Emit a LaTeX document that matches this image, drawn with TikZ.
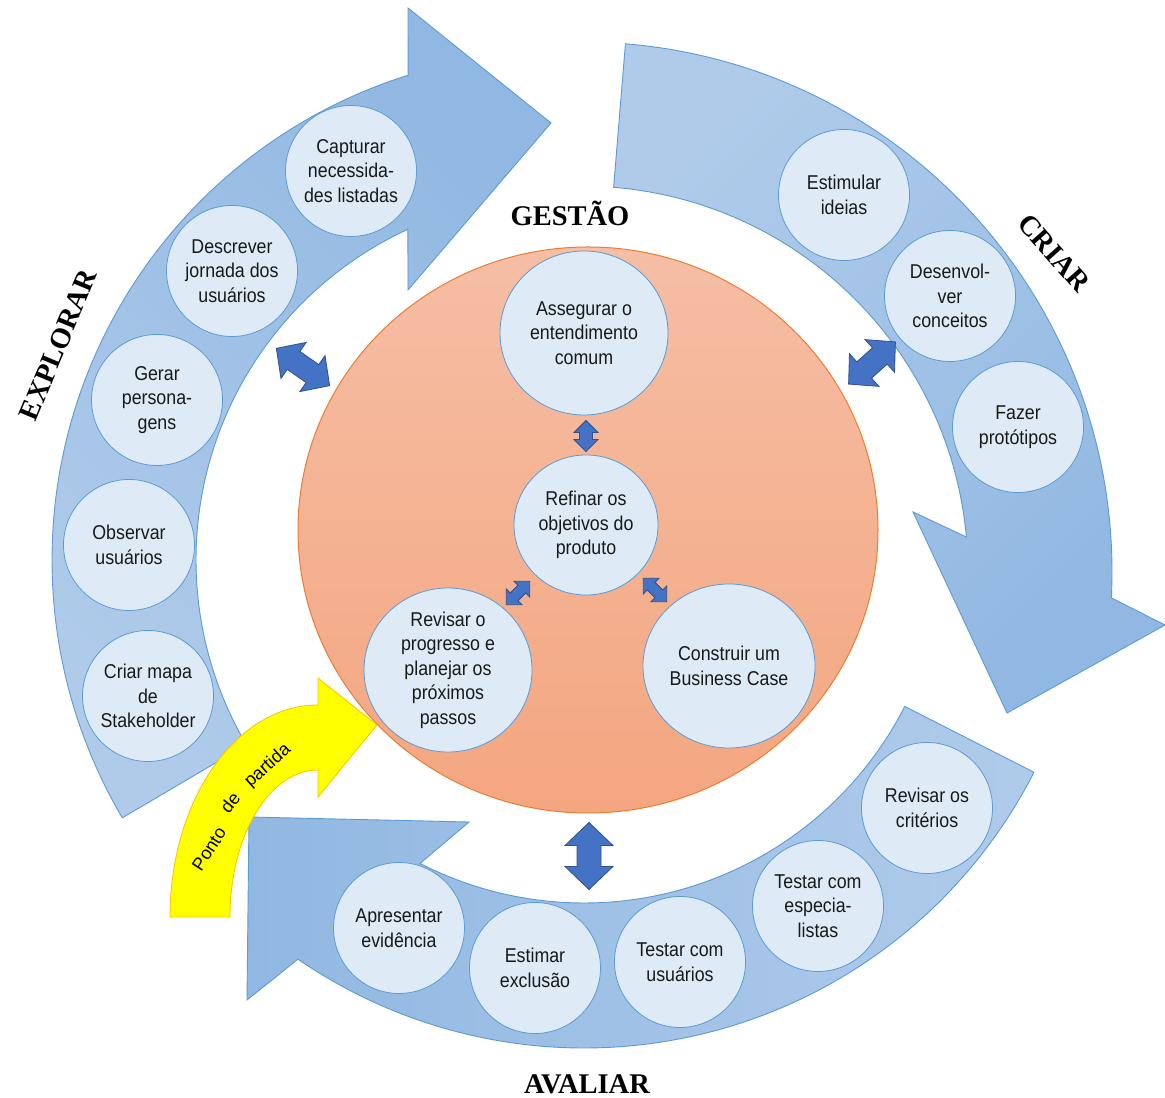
\documentclass[tikz,border=0pt]{standalone}
\usepackage{fontspec}
\newfontfamily\bodyfont{Liberation Sans}[FakeStretch=0.89]
\newfontfamily\plainsans{Liberation Sans}
\newfontfamily\headfont{Liberation Serif}
\usetikzlibrary{shapes.geometric,calc}

\definecolor{ringlight}{RGB}{176,203,234}
\definecolor{ringdark}{RGB}{145,184,226}
\definecolor{ringline}{RGB}{91,155,213}
\definecolor{bubblefill}{RGB}{222,235,247}
\definecolor{coretop}{RGB}{245,190,165}
\definecolor{corebottom}{RGB}{244,166,128}
\definecolor{coreline}{RGB}{237,125,49}
\definecolor{dblfill}{RGB}{68,114,196}
\definecolor{dblline}{RGB}{47,82,143}
\definecolor{startfill}{RGB}{255,255,0}
\definecolor{startline}{RGB}{255,192,0}
\definecolor{ink}{RGB}{25,25,25}

\tikzset{
  bubble/.style={circle, draw=ringline, fill=bubblefill, line width=0.8pt,
    minimum size=131pt, inner sep=-25pt, align=center, text=ink,
    font=\bodyfont\fontsize{20}{24.5}\selectfont},
  corebubble/.style={ellipse, draw=ringline, fill=bubblefill, line width=0.8pt,
    inner sep=-30pt, align=center, text=ink,
    font=\bodyfont\fontsize{20}{24.5}\selectfont},
  phase/.style={font=\headfont\bfseries\fontsize{28.5}{30}\selectfont, text=black},
  startlabel/.style={font=\plainsans\fontsize{18}{20}\selectfont, text=black, inner sep=0pt},
  ring/.style={draw=ringline, line width=0.9pt},
  pics/dblarrow/.style n args={4}{code={
    % #1 length, #2 head half-width, #3 shaft half-width, #4 head length
    \filldraw[fill=dblfill, draw=dblline, line width=0.8pt]
      ({-#1/2},0) -- ({-#1/2+#4},#2) -- ({-#1/2+#4},#3) -- ({#1/2-#4},#3)
      -- ({#1/2-#4},#2) -- ({#1/2},0) -- ({#1/2-#4},-#2) -- ({#1/2-#4},-#3)
      -- ({-#1/2+#4},-#3) -- ({-#1/2+#4},-#2) -- cycle;
  }}
}

\begin{document}
\begin{tikzpicture}[x=1pt,y=1pt]
\useasboundingbox (0,0) rectangle (1165,1098);
\fill[white] (0,0) rectangle (1165,1098);

% ---- EXPLORAR ring arrow
\shadedraw[ring, top color=ringdark, bottom color=ringlight, shading angle=-45]
  ([shift={(560,538)}]210.5:508pt) arc[start angle=210.5, end angle=107.4, radius=508pt]
  -- (408,1090) -- (551,975) -- (408,808)
  -- ([shift={(560,538)}]114.7:364pt) arc[start angle=114.7, end angle=210.5, radius=364pt]
  -- cycle;

% ---- CRIAR ring arrow
\shadedraw[ring, top color=ringlight, bottom color=ringdark, shading angle=45]
  ([shift={(582,526)}]85.3:530pt) arc[start angle=85.3, end angle=-2.8, radius=530pt]
  -- (1165,473) -- (1007,385) -- (913,586)
  -- ([shift={(582,526)}]5.2:386pt) arc[start angle=5.2, end angle=85.3, radius=386pt]
  -- cycle;

% ---- AVALIAR ring arrow
\shadedraw[ring, top color=ringlight, bottom color=ringdark, shading angle=-90]
  ([shift={(584,555)}]333:505pt) arc[start angle=333, end angle=235.5, radius=505pt]
  -- (247,98) -- (249,281) -- (469,276)
  -- ([shift={(584,555)}]242.9:360pt) arc[start angle=242.9, end angle=333, radius=360pt]
  -- cycle;

% ---- central management disc
\node[ellipse, minimum width=580pt, minimum height=566pt, inner sep=0pt,
      top color=coretop, bottom color=corebottom, draw=coreline, line width=1pt]
      (core) at (588,568) {};

% ---- phase titles
\node[phase] (gestao) at (570,885) {GESTÃO};
\node[phase] (avaliar) at (587,14) {AVALIAR};
\node[phase, rotate=67.4] (explorar) at (58,753) {EXPLORAR};
\node[phase, rotate=-48.4] (criar) at (1054,845) {CRIAR};

% ---- EXPLORAR steps
\node[bubble] (capturar) at (351,927) {Capturar\\necessida-\\des listadas};
\node[bubble] (descrever) at (232,827) {Descrever\\jornada dos\\usuários};
\node[bubble] (gerar) at (157,698) {Gerar\\persona-\\gens};
\node[bubble] (observar) at (129,553) {Observar\\usuários};
\node[bubble] (mapa) at (148,402) {Criar mapa\\de\\Stakeholder};

% ---- CRIAR steps
\node[bubble] (estimular) at (844,903) {Estimular\\ideias};
\node[bubble] (desenvolver) at (950,802) {Desenvol-\\ver\\conceitos};
\node[bubble] (prototipos) at (1018,671) {Fazer\\protótipos};

% ---- AVALIAR steps
\node[bubble] (evidencia) at (399,170) {Apresentar\\evidência};
\node[bubble] (exclusao) at (535,130) {Estimar\\exclusão};
\node[bubble] (usuarios) at (680,136) {Testar com\\usuários};
\node[bubble] (especialistas) at (818,192) {Testar com\\especia-\\listas};
\node[bubble] (criterios) at (927,290) {Revisar os\\critérios};

% ---- management steps
\node[corebubble, minimum width=168pt, minimum height=164pt] (assegurar) at (584,765)
  {Assegurar o\\entendimento\\comum};
\node[corebubble, minimum width=144pt, minimum height=140pt] (refinar) at (586,573)
  {Refinar os\\objetivos do\\produto};
\node[corebubble, minimum width=168pt, minimum height=164pt] (revisar) at (448,428)
  {Revisar o\\progresso e\\planejar os\\próximos\\passos};
\node[corebubble, minimum width=172pt, minimum height=164pt] (construir) at (729,432)
  {Construir um\\Business Case};

% ---- two-way links
\pic[rotate=90] (linkA) at (586,662) {dblarrow={31}{12}{6.5}{12}};
\pic[rotate=45] (linkB) at (518,505) {dblarrow={33}{11}{5.5}{11}};
\pic[rotate=-45] (linkC) at (655,508) {dblarrow={33}{11}{5.5}{11}};
\pic[rotate=-35] (linkExp) at (303,731) {dblarrow={65}{22}{11}{21}};
\pic[rotate=42] (linkCri) at (872,735) {dblarrow={63}{22}{11}{21}};
\pic[rotate=90] (linkAva) at (589,242) {dblarrow={67}{24}{12}{23}};

% ---- starting point arrow
\filldraw[fill=startfill, draw=startline, line width=0.8pt]
  (170,181) arc[start angle=180, end angle=90, x radius=148pt, y radius=212pt]
  -- (318,420) -- (377,373) -- (318,301)
  -- (318,328) arc[start angle=90, end angle=180, x radius=88pt, y radius=147pt]
  -- cycle;
\node[startlabel, rotate=57] (ponto) at (209,249) {Ponto};
\node[startlabel, rotate=52] (de) at (230,295) {de};
\node[startlabel, rotate=42] (partida) at (268,332) {partida};
\end{tikzpicture}
\end{document}
